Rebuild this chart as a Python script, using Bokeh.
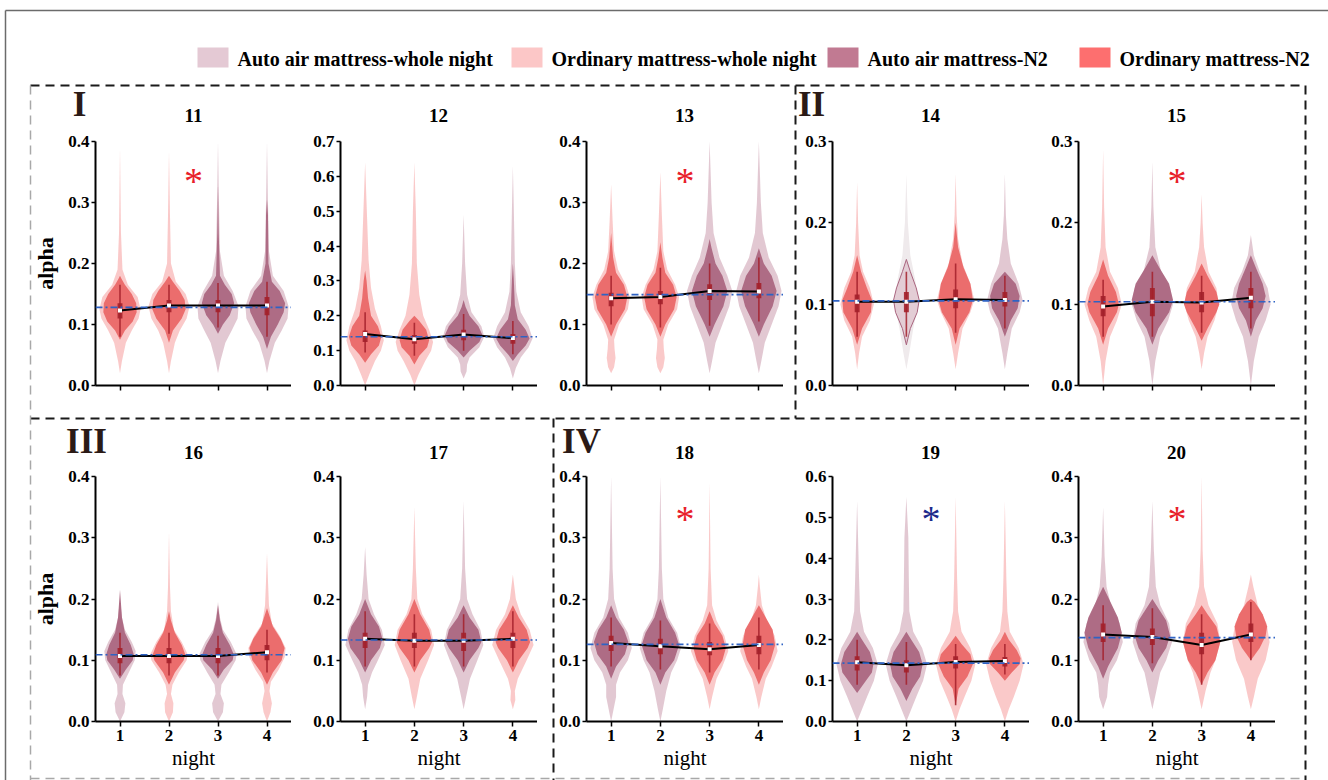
from bokeh.plotting import figure
from bokeh.models import Range1d, FixedTicker, NumeralTickFormatter, GridBox, Span
from bokeh.core.properties import value
from bokeh.embed import file_html
from bokeh.resources import INLINE

# ---------------- data ----------------
PANELS = ["11", "12", "13", "14", "15", "16", "17", "18", "19", "20"]
NIGHTS = [1, 2, 3, 4]
Y_MAX = [0.4, 0.7, 0.4, 0.3, 0.3, 0.4, 0.4, 0.4, 0.6, 0.4]
REF_LEVEL = [0.128, 0.140, 0.149, 0.104, 0.103, 0.109, 0.133, 0.126, 0.143, 0.137]
# A = auto air mattress, O = ordinary mattress (per night 1..4)
MATTRESS = ["OOAA", "OOAA", "OOAA", "OAOA", "OAOA", "AOAO", "AOAO", "AAOO", "AAOO", "AAOO"]
N2_MEAN = [
    [0.123, 0.131, 0.131, 0.131],
    [0.148, 0.133, 0.146, 0.136],
    [0.143, 0.145, 0.155, 0.154],
    [0.103, 0.103, 0.106, 0.105],
    [0.097, 0.103, 0.102, 0.108],
    [0.107, 0.107, 0.107, 0.113],
    [0.135, 0.132, 0.132, 0.135],
    [0.128, 0.123, 0.118, 0.125],
    [0.145, 0.138, 0.146, 0.148],
    [0.142, 0.138, 0.125, 0.142],
]
WHISKER_LO = [
    [0.080, 0.085, 0.095, 0.080], [0.095, 0.085, 0.100, 0.090], [0.100, 0.095, 0.098, 0.105],
    [0.060, 0.060, 0.065, 0.070], [0.060, 0.060, 0.065, 0.070], [0.075, 0.075, 0.075, 0.080],
    [0.090, 0.090, 0.090, 0.090], [0.090, 0.085, 0.080, 0.085], [0.090, 0.090, 0.040, 0.115],
    [0.100, 0.095, 0.060, 0.100],
]
BOX_Q1 = [
    [0.110, 0.120, 0.120, 0.115], [0.125, 0.120, 0.130, 0.120], [0.130, 0.133, 0.140, 0.143],
    [0.090, 0.090, 0.095, 0.097], [0.085, 0.085, 0.090, 0.095], [0.095, 0.095, 0.095, 0.100],
    [0.120, 0.120, 0.115, 0.120], [0.115, 0.110, 0.108, 0.110], [0.125, 0.120, 0.130, 0.135],
    [0.130, 0.125, 0.110, 0.130],
]
BOX_Q3 = [
    [0.135, 0.140, 0.140, 0.145], [0.158, 0.145, 0.160, 0.148], [0.152, 0.155, 0.166, 0.168],
    [0.112, 0.115, 0.118, 0.115], [0.110, 0.120, 0.115, 0.120], [0.120, 0.120, 0.120, 0.125],
    [0.145, 0.145, 0.145, 0.145], [0.140, 0.135, 0.130, 0.140], [0.160, 0.150, 0.160, 0.158],
    [0.160, 0.152, 0.145, 0.160],
]
WHISKER_HI = [
    [0.165, 0.165, 0.168, 0.170], [0.210, 0.180, 0.205, 0.185], [0.180, 0.193, 0.200, 0.210],
    [0.140, 0.140, 0.150, 0.135], [0.130, 0.140, 0.135, 0.140], [0.145, 0.145, 0.140, 0.150],
    [0.180, 0.175, 0.175, 0.180], [0.170, 0.165, 0.160, 0.170], [0.200, 0.195, 0.190, 0.190],
    [0.190, 0.185, 0.175, 0.195],
]
# violin outlines: (alpha value, half width in night units) knots, bottom to top
WHOLE_NIGHT_PROFILE = {
    "11": [
        [(0.02, 0), (0.04, 0.04), (0.07, 0.12), (0.09, 0.24), (0.11, 0.38), (0.125, 0.42), (0.145, 0.36), (0.165, 0.16), (0.19, 0.05), (0.25, 0.02), (0.39, 0)],
        [(0.02, 0), (0.04, 0.04), (0.07, 0.12), (0.09, 0.22), (0.11, 0.36), (0.13, 0.42), (0.15, 0.34), (0.17, 0.14), (0.2, 0.04), (0.28, 0.02), (0.385, 0)],
        [(0.02, 0), (0.04, 0.05), (0.07, 0.15), (0.09, 0.28), (0.11, 0.4), (0.13, 0.42), (0.155, 0.3), (0.18, 0.12), (0.22, 0.04), (0.3, 0.02), (0.4, 0)],
        [(0.02, 0), (0.04, 0.05), (0.07, 0.16), (0.09, 0.3), (0.11, 0.42), (0.13, 0.44), (0.155, 0.34), (0.18, 0.12), (0.22, 0.04), (0.3, 0.02), (0.4, 0)],
    ],
    "12": [
        [(0.0, 0), (0.03, 0.08), (0.07, 0.2), (0.1, 0.32), (0.13, 0.38), (0.17, 0.32), (0.22, 0.2), (0.28, 0.12), (0.36, 0.07), (0.48, 0.04), (0.64, 0)],
        [(0.0, 0), (0.03, 0.08), (0.07, 0.22), (0.1, 0.34), (0.125, 0.38), (0.16, 0.3), (0.2, 0.18), (0.26, 0.1), (0.35, 0.05), (0.5, 0.03), (0.64, 0)],
        [(0.02, 0), (0.04, 0.06), (0.06, 0.07), (0.08, 0.12), (0.11, 0.32), (0.14, 0.42), (0.17, 0.36), (0.21, 0.16), (0.26, 0.07), (0.35, 0.03), (0.49, 0)],
        [(0.02, 0), (0.05, 0.06), (0.08, 0.16), (0.11, 0.32), (0.135, 0.4), (0.17, 0.32), (0.21, 0.16), (0.27, 0.07), (0.35, 0.04), (0.5, 0.02), (0.63, 0)],
    ],
    "13": [
        [(0.02, 0), (0.03, 0.06), (0.045, 0.09), (0.06, 0.07), (0.075, 0.06), (0.1, 0.16), (0.125, 0.34), (0.145, 0.38), (0.165, 0.3), (0.19, 0.14), (0.22, 0.06), (0.27, 0.03), (0.33, 0)],
        [(0.02, 0), (0.03, 0.06), (0.045, 0.09), (0.06, 0.07), (0.075, 0.06), (0.1, 0.16), (0.125, 0.34), (0.145, 0.38), (0.165, 0.3), (0.19, 0.14), (0.22, 0.06), (0.28, 0.03), (0.35, 0)],
        [(0.02, 0), (0.04, 0.05), (0.07, 0.12), (0.1, 0.26), (0.13, 0.4), (0.155, 0.46), (0.18, 0.36), (0.21, 0.2), (0.25, 0.08), (0.3, 0.04), (0.4, 0)],
        [(0.02, 0), (0.04, 0.05), (0.07, 0.12), (0.1, 0.26), (0.13, 0.4), (0.155, 0.46), (0.18, 0.38), (0.21, 0.2), (0.25, 0.08), (0.3, 0.04), (0.4, 0)],
    ],
    "14": [
        [(0.02, 0), (0.04, 0.04), (0.06, 0.1), (0.08, 0.26), (0.1, 0.34), (0.12, 0.26), (0.14, 0.12), (0.16, 0.05), (0.2, 0.02), (0.25, 0)],
        [(0.02, 0), (0.04, 0.06), (0.07, 0.14), (0.1, 0.24), (0.13, 0.18), (0.16, 0.08), (0.2, 0.03), (0.26, 0)],
        [(0.02, 0), (0.04, 0.05), (0.07, 0.14), (0.09, 0.3), (0.105, 0.38), (0.125, 0.3), (0.15, 0.14), (0.18, 0.05), (0.21, 0.02), (0.26, 0)],
        [(0.02, 0), (0.04, 0.05), (0.07, 0.14), (0.09, 0.3), (0.105, 0.36), (0.125, 0.28), (0.15, 0.12), (0.18, 0.05), (0.21, 0.02), (0.26, 0)],
    ],
    "15": [
        [(0.0, 0), (0.03, 0.05), (0.06, 0.14), (0.08, 0.28), (0.1, 0.38), (0.12, 0.3), (0.14, 0.14), (0.17, 0.05), (0.22, 0.02), (0.29, 0)],
        [(0.0, 0), (0.03, 0.06), (0.06, 0.16), (0.08, 0.32), (0.1, 0.42), (0.12, 0.36), (0.14, 0.18), (0.17, 0.06), (0.22, 0.02), (0.275, 0)],
        [(0.02, 0), (0.04, 0.05), (0.06, 0.12), (0.08, 0.26), (0.1, 0.35), (0.12, 0.3), (0.14, 0.14), (0.17, 0.05), (0.2, 0.02), (0.235, 0)],
        [(0.0, 0), (0.03, 0.06), (0.06, 0.16), (0.08, 0.3), (0.1, 0.4), (0.12, 0.34), (0.14, 0.18), (0.16, 0.06), (0.185, 0)],
    ],
    "16": [
        [(0.0, 0), (0.015, 0.09), (0.03, 0.11), (0.045, 0.05), (0.06, 0.06), (0.08, 0.18), (0.1, 0.3), (0.115, 0.32), (0.13, 0.24), (0.15, 0.1), (0.17, 0.04), (0.2, 0)],
        [(0.0, 0), (0.015, 0.08), (0.03, 0.09), (0.045, 0.04), (0.06, 0.07), (0.08, 0.2), (0.1, 0.36), (0.11, 0.38), (0.13, 0.26), (0.15, 0.1), (0.18, 0.04), (0.22, 0.02), (0.31, 0)],
        [(0.0, 0), (0.015, 0.1), (0.03, 0.12), (0.045, 0.05), (0.06, 0.07), (0.08, 0.22), (0.1, 0.36), (0.11, 0.38), (0.13, 0.26), (0.15, 0.1), (0.17, 0.04), (0.195, 0)],
        [(0.0, 0), (0.015, 0.07), (0.03, 0.1), (0.05, 0.05), (0.065, 0.08), (0.085, 0.24), (0.105, 0.36), (0.12, 0.38), (0.14, 0.26), (0.16, 0.1), (0.19, 0.04), (0.23, 0.02), (0.275, 0)],
    ],
    "17": [
        [(0.02, 0), (0.04, 0.04), (0.06, 0.06), (0.08, 0.14), (0.1, 0.26), (0.125, 0.4), (0.15, 0.34), (0.175, 0.18), (0.2, 0.07), (0.24, 0.03), (0.285, 0)],
        [(0.02, 0), (0.04, 0.05), (0.07, 0.12), (0.1, 0.28), (0.125, 0.4), (0.15, 0.34), (0.175, 0.16), (0.2, 0.06), (0.25, 0.03), (0.35, 0)],
        [(0.02, 0), (0.04, 0.05), (0.07, 0.13), (0.1, 0.28), (0.125, 0.4), (0.15, 0.34), (0.175, 0.18), (0.2, 0.07), (0.25, 0.03), (0.36, 0)],
        [(0.02, 0), (0.035, 0.05), (0.05, 0.04), (0.07, 0.1), (0.1, 0.28), (0.125, 0.42), (0.15, 0.34), (0.175, 0.16), (0.2, 0.06), (0.24, 0)],
    ],
    "18": [
        [(0.0, 0), (0.02, 0.05), (0.04, 0.1), (0.06, 0.1), (0.08, 0.18), (0.1, 0.34), (0.12, 0.42), (0.145, 0.34), (0.17, 0.16), (0.2, 0.06), (0.25, 0.03), (0.4, 0)],
        [(0.0, 0), (0.02, 0.05), (0.05, 0.12), (0.08, 0.22), (0.1, 0.34), (0.12, 0.42), (0.145, 0.34), (0.17, 0.16), (0.2, 0.06), (0.25, 0.03), (0.4, 0)],
        [(0.02, 0), (0.04, 0.05), (0.07, 0.14), (0.09, 0.26), (0.115, 0.38), (0.14, 0.3), (0.165, 0.14), (0.19, 0.05), (0.25, 0.02), (0.39, 0)],
        [(0.02, 0), (0.04, 0.05), (0.07, 0.14), (0.09, 0.26), (0.115, 0.38), (0.14, 0.32), (0.165, 0.16), (0.19, 0.06), (0.22, 0.02), (0.24, 0)],
    ],
    "19": [
        [(0.0, 0), (0.03, 0.1), (0.06, 0.2), (0.1, 0.34), (0.14, 0.42), (0.18, 0.32), (0.22, 0.14), (0.27, 0.06), (0.35, 0.04), (0.54, 0)],
        [(0.0, 0), (0.03, 0.1), (0.06, 0.2), (0.1, 0.34), (0.14, 0.42), (0.18, 0.32), (0.22, 0.14), (0.27, 0.06), (0.35, 0.05), (0.45, 0.04), (0.55, 0)],
        [(0.0, 0), (0.03, 0.08), (0.06, 0.18), (0.1, 0.32), (0.14, 0.4), (0.18, 0.3), (0.22, 0.12), (0.27, 0.05), (0.35, 0.03), (0.55, 0)],
        [(0.0, 0), (0.03, 0.08), (0.06, 0.18), (0.1, 0.3), (0.14, 0.38), (0.18, 0.28), (0.22, 0.1), (0.27, 0.05), (0.35, 0.03), (0.54, 0)],
    ],
    "20": [
        [(0.02, 0), (0.04, 0.08), (0.06, 0.1), (0.08, 0.14), (0.1, 0.28), (0.13, 0.4), (0.16, 0.34), (0.19, 0.16), (0.22, 0.07), (0.27, 0.03), (0.35, 0)],
        [(0.02, 0), (0.05, 0.08), (0.08, 0.16), (0.1, 0.28), (0.13, 0.4), (0.16, 0.34), (0.19, 0.16), (0.22, 0.07), (0.28, 0.03), (0.36, 0)],
        [(0.02, 0), (0.05, 0.08), (0.08, 0.18), (0.1, 0.28), (0.13, 0.38), (0.16, 0.32), (0.19, 0.14), (0.22, 0.05), (0.28, 0.02), (0.4, 0)],
        [(0.02, 0), (0.04, 0.06), (0.07, 0.14), (0.1, 0.3), (0.13, 0.38), (0.16, 0.32), (0.19, 0.14), (0.22, 0.05), (0.24, 0)],
    ],
}
N2_PROFILE = {
    "11": [
        [(0.075, 0), (0.09, 0.1), (0.105, 0.26), (0.12, 0.34), (0.135, 0.33), (0.15, 0.24), (0.165, 0.1), (0.175, 0.03), (0.18, 0)],
        [(0.07, 0), (0.09, 0.08), (0.11, 0.26), (0.125, 0.34), (0.14, 0.32), (0.155, 0.22), (0.17, 0.08), (0.18, 0)],
        [(0.085, 0), (0.1, 0.1), (0.115, 0.24), (0.135, 0.33), (0.15, 0.28), (0.165, 0.14), (0.18, 0.04), (0.25, 0.015), (0.33, 0)],
        [(0.06, 0), (0.08, 0.08), (0.1, 0.22), (0.12, 0.34), (0.135, 0.37), (0.155, 0.26), (0.17, 0.1), (0.2, 0.03), (0.28, 0.02), (0.305, 0)],
    ],
    "12": [
        [(0.065, 0), (0.09, 0.12), (0.115, 0.28), (0.14, 0.33), (0.17, 0.26), (0.2, 0.12), (0.25, 0.06), (0.3, 0.03), (0.33, 0)],
        [(0.06, 0), (0.085, 0.1), (0.11, 0.26), (0.13, 0.3), (0.16, 0.24), (0.185, 0.1), (0.2, 0)],
        [(0.08, 0), (0.1, 0.12), (0.125, 0.32), (0.145, 0.38), (0.17, 0.3), (0.2, 0.12), (0.225, 0.04), (0.245, 0)],
        [(0.07, 0), (0.09, 0.1), (0.115, 0.26), (0.135, 0.34), (0.16, 0.26), (0.19, 0.1), (0.23, 0.04), (0.3, 0.02), (0.35, 0)],
    ],
    "13": [
        [(0.08, 0), (0.1, 0.1), (0.125, 0.28), (0.145, 0.33), (0.165, 0.26), (0.185, 0.1), (0.21, 0.04), (0.25, 0)],
        [(0.08, 0), (0.1, 0.1), (0.125, 0.28), (0.145, 0.33), (0.165, 0.26), (0.185, 0.1), (0.21, 0.04), (0.235, 0)],
        [(0.08, 0), (0.1, 0.1), (0.13, 0.28), (0.155, 0.36), (0.18, 0.26), (0.2, 0.12), (0.225, 0.04), (0.24, 0)],
        [(0.08, 0), (0.1, 0.1), (0.13, 0.28), (0.155, 0.36), (0.18, 0.26), (0.2, 0.1), (0.225, 0)],
    ],
    "14": [
        [(0.05, 0), (0.07, 0.1), (0.09, 0.28), (0.105, 0.3), (0.12, 0.2), (0.14, 0.08), (0.16, 0)],
        [(0.05, 0), (0.07, 0.08), (0.09, 0.22), (0.105, 0.26), (0.12, 0.2), (0.14, 0.08), (0.155, 0)],
        [(0.05, 0), (0.07, 0.08), (0.09, 0.28), (0.105, 0.35), (0.125, 0.3), (0.145, 0.16), (0.17, 0.05), (0.2, 0)],
        [(0.06, 0), (0.08, 0.12), (0.095, 0.26), (0.11, 0.3), (0.125, 0.22), (0.14, 0)],
    ],
    "15": [
        [(0.05, 0), (0.07, 0.1), (0.09, 0.28), (0.1, 0.32), (0.115, 0.26), (0.135, 0.1), (0.155, 0)],
        [(0.05, 0), (0.07, 0.12), (0.09, 0.34), (0.105, 0.42), (0.125, 0.34), (0.145, 0.14), (0.16, 0)],
        [(0.055, 0), (0.07, 0.12), (0.09, 0.3), (0.1, 0.36), (0.115, 0.3), (0.135, 0.12), (0.15, 0)],
        [(0.06, 0), (0.08, 0.1), (0.095, 0.24), (0.11, 0.3), (0.125, 0.24), (0.145, 0.1), (0.16, 0)],
    ],
    "16": [
        [(0.07, 0), (0.085, 0.12), (0.1, 0.26), (0.11, 0.28), (0.125, 0.22), (0.145, 0.1), (0.17, 0.04), (0.215, 0)],
        [(0.06, 0), (0.08, 0.12), (0.1, 0.3), (0.11, 0.33), (0.125, 0.26), (0.145, 0.12), (0.165, 0.04), (0.18, 0)],
        [(0.07, 0), (0.085, 0.12), (0.1, 0.3), (0.11, 0.32), (0.125, 0.24), (0.145, 0.1), (0.165, 0.04), (0.19, 0)],
        [(0.06, 0), (0.08, 0.12), (0.1, 0.3), (0.12, 0.36), (0.135, 0.28), (0.155, 0.12), (0.175, 0.04), (0.185, 0)],
    ],
    "17": [
        [(0.08, 0), (0.1, 0.12), (0.12, 0.3), (0.135, 0.35), (0.155, 0.28), (0.175, 0.12), (0.2, 0)],
        [(0.08, 0), (0.1, 0.12), (0.12, 0.3), (0.13, 0.36), (0.15, 0.3), (0.175, 0.12), (0.2, 0)],
        [(0.08, 0), (0.1, 0.12), (0.12, 0.3), (0.13, 0.36), (0.15, 0.3), (0.17, 0.12), (0.19, 0)],
        [(0.08, 0), (0.1, 0.12), (0.12, 0.3), (0.13, 0.35), (0.15, 0.28), (0.17, 0.12), (0.19, 0)],
    ],
    "18": [
        [(0.07, 0), (0.09, 0.1), (0.11, 0.28), (0.13, 0.35), (0.15, 0.26), (0.17, 0.1), (0.19, 0)],
        [(0.06, 0), (0.08, 0.1), (0.1, 0.28), (0.125, 0.38), (0.145, 0.3), (0.17, 0.12), (0.2, 0)],
        [(0.06, 0), (0.08, 0.1), (0.1, 0.26), (0.12, 0.33), (0.14, 0.26), (0.16, 0.1), (0.18, 0)],
        [(0.06, 0), (0.08, 0.1), (0.1, 0.24), (0.125, 0.33), (0.15, 0.28), (0.17, 0.14), (0.19, 0)],
    ],
    "19": [
        [(0.07, 0), (0.09, 0.12), (0.12, 0.3), (0.14, 0.33), (0.17, 0.26), (0.2, 0.1), (0.22, 0)],
        [(0.05, 0), (0.08, 0.12), (0.11, 0.28), (0.14, 0.33), (0.17, 0.26), (0.2, 0.1), (0.22, 0)],
        [(0.04, 0), (0.08, 0.06), (0.11, 0.24), (0.14, 0.35), (0.165, 0.3), (0.19, 0.12), (0.21, 0)],
        [(0.1, 0), (0.12, 0.14), (0.14, 0.3), (0.155, 0.32), (0.175, 0.24), (0.2, 0.08), (0.22, 0)],
    ],
    "20": [
        [(0.07, 0), (0.09, 0.1), (0.12, 0.3), (0.145, 0.38), (0.17, 0.3), (0.2, 0.12), (0.22, 0)],
        [(0.08, 0), (0.1, 0.12), (0.12, 0.28), (0.14, 0.36), (0.165, 0.28), (0.185, 0.12), (0.2, 0)],
        [(0.06, 0), (0.08, 0.12), (0.1, 0.28), (0.13, 0.38), (0.155, 0.3), (0.175, 0.12), (0.19, 0)],
        [(0.1, 0), (0.12, 0.18), (0.14, 0.3), (0.155, 0.33), (0.175, 0.24), (0.195, 0.08), (0.2, 0)],
    ],
}
FADED_NIGHTS = {"14": [2]}
# significance marks: panel -> (colour key, alpha level of the mark)
SIGNIF_MARK = {"11": ("red", 0.35), "13": ("red", 0.35), "15": ("red", 0.262),
               "18": ("red", 0.345), "19": ("blue", 0.517), "20": ("red", 0.345)}
GROUPS = ["I", "II", "III", "IV"]
LEGEND_LABELS = ["Auto air mattress-whole night", "Ordinary mattress-whole night",
                 "Auto air mattress-N2", "Ordinary mattress-N2"]

# ---------------- styles ----------------
SERIF = "Liberation Serif"
WHOLE_COL = {"A": "#e0c5d0", "O": "#fac6c6"}
N2_COL = {"A": "#a9647e", "O": "#e96565"}
LEGEND_COL = ["#e4c9d4", "#fcc7c7", "#c17a92", "#fd6f6f"]
BOX_COL = "#a3202a"
STAR_COL = {"red": "#e8202a", "blue": "#1c2a8c"}

COL_W = [291, 246, 246, 246, 246, 53]
ROW_H = [100, 305, 30, 345]


def make_panel(k, col, bottom_row):
    name = PANELS[k]
    left = 95 if col == 0 else 49
    width = COL_W[col]
    height = ROW_H[3] if bottom_row else ROW_H[1]
    p = figure(width=width, height=height, x_range=Range1d(0.5, 4.5),
               y_range=Range1d(0, Y_MAX[k]), output_backend="svg",
               toolbar_location=None, min_border_left=left, min_border_right=0,
               min_border_top=41, min_border_bottom=59 if bottom_row else 20)
    p.background_fill_color = None
    p.border_fill_color = None
    p.outline_line_color = None
    p.grid.visible = False

    # whole-night violins, then N2 violins
    for layer, prof, cols in ((0, WHOLE_NIGHT_PROFILE[name], WHOLE_COL),
                              (1, N2_PROFILE[name], N2_COL)):
        xs, ys, fills, lines, alphas = [], [], [], [], []
        for i, n in enumerate(NIGHTS):
            knots = prof[i]
            xs.append([n + w for _, w in knots] + [n - w for _, w in reversed(knots)])
            ys.append([y for y, _ in knots] + [y for y, _ in reversed(knots)])
            t = MATTRESS[k][i]
            faded = n in FADED_NIGHTS.get(name, [])
            if faded and layer == 0:
                fills.append("#efeaec"); lines.append(None); alphas.append(1.0)
            elif faded:
                fills.append(WHOLE_COL[t]); lines.append(N2_COL[t]); alphas.append(0.8)
            else:
                fills.append(cols[t]); lines.append(None); alphas.append(0.95 if layer == 0 else 0.92)
        p.patches(xs=xs, ys=ys, fill_color=fills, line_color=lines, fill_alpha=alphas, line_width=1)

    p.segment(x0=NIGHTS, y0=WHISKER_LO[k], x1=NIGHTS, y1=WHISKER_HI[k],
              line_color=BOX_COL, line_width=1.6, line_alpha=0.85)
    p.vbar(x=NIGHTS, width=0.1, bottom=BOX_Q1[k], top=BOX_Q3[k],
           fill_color=BOX_COL, line_color=None, fill_alpha=0.9)
    p.add_layout(Span(location=REF_LEVEL[k], dimension="width", line_color="#2f63c4",
                      line_width=1.6, line_dash="7 3 2 3"))
    p.line(x=NIGHTS, y=N2_MEAN[k], line_color="black", line_width=2)
    p.scatter(x=NIGHTS, y=N2_MEAN[k], marker="square", size=4, fill_color="white",
              line_color=None)
    if name in SIGNIF_MARK:
        c, yv = SIGNIF_MARK[name]
        p.text(x=[2.5], y=[yv], text=["*"], text_font=value(SERIF), text_font_size="38px",
               text_align="center", text_baseline="middle", text_color=STAR_COL[c],
               y_offset=9)

    # axes
    yt = [round(0.1 * j, 1) for j in range(int(round(Y_MAX[k] * 10)) + 1)]
    p.yaxis.ticker = FixedTicker(ticks=yt)
    p.yaxis.formatter = NumeralTickFormatter(format="0.0")
    p.xaxis.ticker = FixedTicker(ticks=NIGHTS)
    for ax in (p.xaxis[0], p.yaxis[0]):
        ax.axis_line_width = 2
        ax.axis_line_color = "black"
        ax.major_tick_line_width = 1.5
        ax.major_tick_line_color = "black"
        ax.major_tick_in = 0
        ax.minor_tick_line_color = None
        ax.major_label_text_font = SERIF
        ax.major_label_text_font_style = "bold"
        ax.major_label_text_font_size = "17px"
        ax.major_label_text_color = "black"
    p.yaxis.major_tick_out = 4
    p.yaxis.major_label_standoff = 2
    p.xaxis.major_tick_out = 5
    p.xaxis.major_label_standoff = 3
    if col == 0:
        p.yaxis.axis_label = "alpha"
        p.yaxis.axis_label_text_font = SERIF
        p.yaxis.axis_label_text_font_style = "bold"
        p.yaxis.axis_label_text_font_size = "22px"
        p.yaxis.axis_label_text_color = "black"
        p.yaxis.axis_label_standoff = 7
    if bottom_row:
        p.xaxis.axis_label = "night"
        p.xaxis.axis_label_text_font = SERIF
        p.xaxis.axis_label_text_font_style = "normal"
        p.xaxis.axis_label_text_font_size = "21px"
        p.xaxis.axis_label_text_color = "black"
        p.xaxis.axis_label_standoff = 2
    else:
        p.xaxis.major_label_overrides = {n: "" for n in NIGHTS}
    return p


# ---------------- background: legend, group boxes, numerals, titles ----------------
bg = figure(width=1328, height=780, x_range=Range1d(0, 1328), y_range=Range1d(780, 0),
            output_backend="svg", toolbar_location=None, min_border=0,
            x_axis_type=None, y_axis_type=None)
bg.frame_align = False
bg.grid.visible = False
bg.outline_line_color = None
bg.background_fill_color = "white"
bg.border_fill_color = "white"

bg.multi_line(xs=[[5, 5], [5, 1328]], ys=[[780, 10], [10, 10]], line_color="#6b6b6b", line_width=1.5)
bg.multi_line(xs=[[30, 1305], [30, 1305], [795, 795], [553, 553], [1305, 1305]],
              ys=[[85, 85], [418, 418], [85, 418], [418, 780], [85, 780]],
              line_color="#1a1a1a", line_width=2, line_dash="9 6")
bg.multi_line(xs=[[30, 30], [30, 1305]], ys=[[85, 780], [778, 778]], line_color="#a8a8a8",
              line_width=1.5, line_dash="9 6")

bg.text(x=[79, 811, 86, 581], y=[104, 104, 441, 441], text=GROUPS, text_font=value(SERIF),
        text_font_style="bold", text_font_size="35px", text_color="#2b1a16",
        text_align="center", text_baseline="middle")

title_x = [193, 438, 684, 930, 1176] * 2
title_y = [115] * 5 + [452] * 5
bg.text(x=title_x, y=title_y, text=PANELS, text_font=value(SERIF), text_font_style="bold",
        text_font_size="19px", text_color="black", text_align="center", text_baseline="middle")

sw_left = [197, 511, 827, 1079]
bg.quad(left=sw_left, right=[s + 31 for s in sw_left], top=[47] * 4, bottom=[67] * 4,
        fill_color=LEGEND_COL, line_color=None)
bg.text(x=[s + 40 for s in sw_left], y=[58] * 4, text=LEGEND_LABELS, text_font=value(SERIF),
        text_font_style="bold", text_font_size="20px", text_color="black",
        text_align="left", text_baseline="middle")

children = [(bg, 0, 0, 4, 6)]
for k in range(10):
    row = 1 if k < 5 else 3
    col = k % 5
    children.append((make_panel(k, col, k >= 5), row, col))

layout = GridBox(children=children, rows=[f"{h}px" for h in ROW_H],
                 cols=[f"{w}px" for w in COL_W], spacing=0)

open("out.html", "w").write(file_html(layout, INLINE))
